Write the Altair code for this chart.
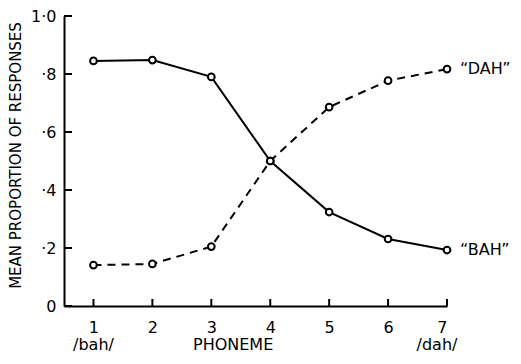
import altair as alt
import pandas as pd

phoneme = [1, 2, 3, 4, 5, 6, 7]
bah = [0.845, 0.848, 0.79, 0.50, 0.324, 0.231, 0.193]
dah = [0.141, 0.145, 0.205, 0.50, 0.686, 0.777, 0.817]
series_names = ["\u201cBAH\u201d", "\u201cDAH\u201d"]
y_ticks = [0, 0.2, 0.4, 0.6, 0.8, 1.0]
bottom_labels = ["/bah/", "PHONEME", "/dah/"]
bottom_pos = [1, 3.37, 6.83]

FONT = "DejaVu Sans"
W, H = 383, 290

rows = []
for p, b, d in zip(phoneme, bah, dah):
    rows.append({"x": p, "y": b, "s": "bah"})
    rows.append({"x": p, "y": d, "s": "dah"})
df = pd.DataFrame(rows)

xs = alt.Scale(domain=[0.5, 7], nice=False, zero=False)
ys = alt.Scale(domain=[0, 1], nice=False)

xax = alt.Axis(values=phoneme, format="d", ticks=False, grid=False, labelFontSize=16, labelFont=FONT,
               labelColor="black", domainColor="black", domainWidth=2, labelPadding=13,
               title=None, labelAngle=0)
yax = alt.Axis(values=y_ticks, ticks=False, grid=False, labelFontSize=16, labelFont=FONT,
               labelColor="black", domainColor="black", domainWidth=2, labelPadding=8,
               labelExpr="datum.value == 0 ? '0' : (datum.value >= 1 ? '1\u00b70' : '\u00b7' + format(datum.value*10, 'd'))",
               title="MEAN PROPORTION OF RESPONSES", titleFont=FONT, titleFontSize=15,
               titleFontWeight="normal", titleColor="black", titleAngle=270,
               titleX=-49, titleY=139, titleAlign="center", titleBaseline="middle")

xt_df = pd.DataFrame({"xt": phoneme})
xticks = alt.Chart(xt_df).mark_rule(color="black", strokeWidth=2).encode(
    x=alt.X("xt:Q", scale=xs, axis=xax), y=alt.value(H), y2=alt.value(H - 7))
yt_df = pd.DataFrame({"yt": y_ticks})
yticks = alt.Chart(yt_df).mark_rule(color="black", strokeWidth=2).encode(
    y=alt.Y("yt:Q", scale=ys, axis=yax), x=alt.value(0), x2=alt.value(8))

line_bah = alt.Chart(df[df.s == "bah"]).mark_line(color="black", strokeWidth=2).encode(
    x=alt.X("x:Q", scale=xs), y=alt.Y("y:Q", scale=ys))
line_dah = alt.Chart(df[df.s == "dah"]).mark_line(color="black", strokeWidth=2, strokeDash=[8, 6]).encode(
    x=alt.X("x:Q", scale=xs), y=alt.Y("y:Q", scale=ys))

pts = alt.Chart(df).mark_point(shape="circle", filled=True, fill="white", stroke="black",
                               strokeWidth=2, size=45, opacity=1).encode(
    x=alt.X("x:Q", scale=xs), y=alt.Y("y:Q", scale=ys))

end_df = pd.DataFrame({"x": [7, 7], "y": [bah[-1], dah[-1]], "t": series_names})
end_lbl = alt.Chart(end_df).mark_text(align="left", baseline="middle", dx=13, font=FONT,
                                       fontSize=16, color="black").encode(
    x=alt.X("x:Q", scale=xs), y=alt.Y("y:Q", scale=ys), text="t:N")

bl_df = pd.DataFrame({"x": bottom_pos, "t": bottom_labels})
blabels = alt.Chart(bl_df).mark_text(align="center", baseline="middle", font=FONT,
                                      fontSize=16, color="black").encode(
    x=alt.X("x:Q", scale=xs), y=alt.value(H + 39), text="t:N")

chart = alt.layer(xticks, yticks, line_dah, line_bah, pts, end_lbl, blabels).properties(
    width=W, height=H,
    autosize=alt.AutoSizeParams(type="none"),
    padding={"left": 56, "top": 8, "right": 66, "bottom": 50},
).configure_view(stroke=None)

chart.save("out.html", embed_options={"renderer": "svg", "actions": False})
